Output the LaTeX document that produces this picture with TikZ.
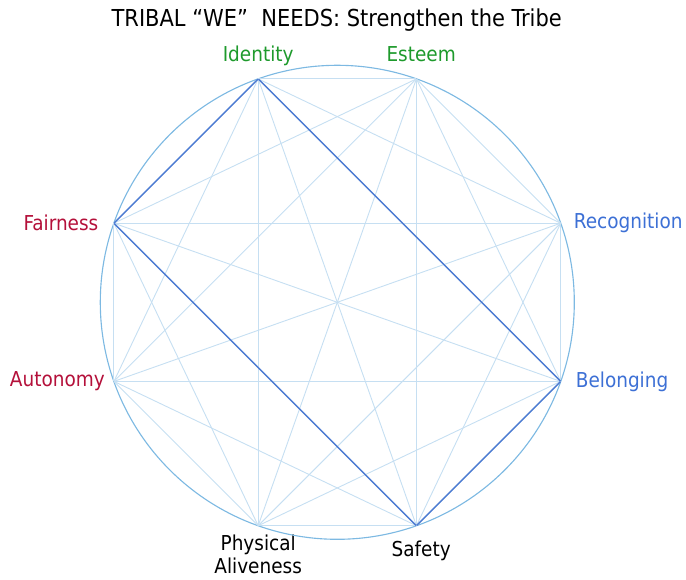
\documentclass[tikz,border=0pt]{standalone}
\usepackage{fontspec}
\setmainfont{DejaVu Sans Condensed}
\usetikzlibrary{positioning}
\definecolor{rimblue}{HTML}{7DB9E2}
\definecolor{webblue}{HTML}{C6DFF2}
\definecolor{tieblue}{HTML}{4D7BD2}
\definecolor{needgreen}{HTML}{1E9A2C}
\definecolor{needblue}{HTML}{3D70D5}
\definecolor{needred}{HTML}{B4103A}

\begin{document}
\begin{tikzpicture}[font=\fontsize{14.6}{16.3}\selectfont,pt/.style={inner sep=0pt,minimum size=0pt},web/.style={webblue,line width=0.65pt},tie/.style={tieblue,line width=1pt},every label/.style={inner sep=1pt}]
  \useasboundingbox (-8.4325,-6.9425) rectangle (8.7175,7.5575);
  \def\R{5.925}
  \node[font=\fontsize{16.6}{19}\selectfont,anchor=base] (title) at (-0.015,6.89) {TRIBAL “WE”\ \ NEEDS: Strengthen the Tribe};

  \node[pt,label={[needgreen,anchor=base,label distance=0.43cm]above:Identity}] (ident) at (109.5:\R) {};
  \node[pt,label={[needgreen,anchor=base,label distance=0.43cm,xshift=0.12cm]above:Esteem}] (esteem) at (70.5:\R) {};
  \node[pt,label={[needblue,label distance=0.28cm]right:Recognition}] (recog) at (19.5:\R) {};
  \node[pt,label={[needblue,label distance=0.33cm]right:Belonging}] (belong) at (-19.5:\R) {};
  \node[pt,label={[label distance=0.32cm,xshift=0.12cm]below:Safety}] (safety) at (-70.5:\R) {};
  \node[pt,label={[align=center,label distance=0.18cm]below:{Physical\\Aliveness}}] (phys) at (-109.5:\R) {};
  \node[pt,label={[needred,label distance=0.18cm]left:Autonomy}] (auton) at (-160.5:\R) {};
  \node[pt,label={[needred,label distance=0.34cm]left:Fairness}] (fair) at (160.5:\R) {};

  \draw[rimblue,line width=0.8pt] (0,0) circle (\R);
  \foreach \a [count=\i] in {ident,esteem,recog,belong,safety,phys,auton,fair}
    \foreach \b [count=\j] in {ident,esteem,recog,belong,safety,phys,auton,fair}
      {\ifnum\j>\i \draw[web] (\a) -- (\b); \fi}
  \draw[tie] (ident) -- (fair) -- (safety) -- (belong) -- (ident);
\end{tikzpicture}
\end{document}
